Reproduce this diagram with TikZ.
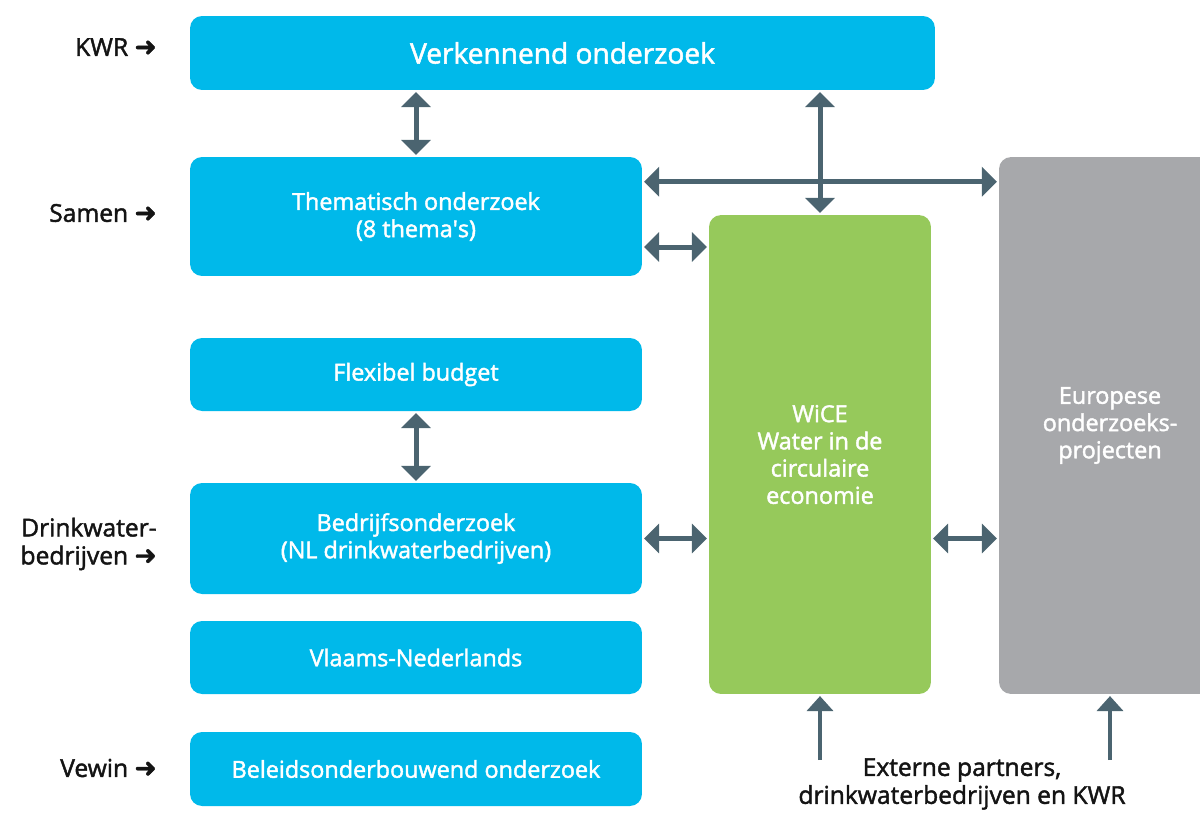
\documentclass[tikz,border=0pt]{standalone}
\usepackage{fontspec}
\setmainfont{Open Sans}[FakeBold=1.8]
\newfontfamily\arrowfont{DejaVu Sans}[FakeBold=1.5]
\usetikzlibrary{arrows.meta}
\usetikzlibrary{calc}
\definecolor{kblue}{HTML}{00B9EA}
\definecolor{kgreen}{HTML}{96C95B}
\definecolor{kgrey}{HTML}{A7A8AB}
\definecolor{klink}{HTML}{4B6470}
\definecolor{ktext}{HTML}{141414}
\newcommand{\lblarrow}{{\arrowfont\bfseries\fontsize{15}{15.9}\selectfont ➜}}

\begin{document}
\begin{tikzpicture}[x=0.02cm,y=-0.02cm]
\tikzstyle{every node}=[inner sep=0pt,align=center,font=\fontsize{13.3}{15.5}\selectfont]
\tikzstyle{box}=[rectangle,rounded corners=0.24cm,text=white,minimum width=9.04cm,fill=kblue]
\tikzstyle{lbl}=[anchor=east,align=right,text=ktext,font=\fontsize{14}{15.9}\selectfont]
\tikzstyle{link}=[klink,line width=0.1cm,shorten <=1pt,shorten >=1pt,{Triangle[width=0.58cm,length=0.3cm]}-{Triangle[width=0.58cm,length=0.3cm]}]
\tikzstyle{uplink}=[klink,line width=0.09cm,shorten >=1pt,-{Triangle[width=0.52cm,length=0.3cm]}]
\useasboundingbox (0,0) rectangle (1200,812);
\node[box,minimum width=14.9cm,minimum height=1.48cm,font=\fontsize{16}{19}\selectfont] (v) at (562.5,53) {Verkennend onderzoek};
\node[box,minimum height=2.38cm] (t) at (416,216.5) {Thematisch onderzoek\\(8 thema\textquotesingle s)};
\node[box,minimum height=1.46cm] (f) at (416,374.5) {Flexibel budget};
\node[box,minimum height=2.22cm] (b) at (416,538.5) {Bedrijfsonderzoek\\(NL drinkwaterbedrijven)};
\node[box,minimum height=1.46cm] (n) at (416,657.5) {Vlaams-Nederlands};
\node[box,minimum height=1.48cm] (p) at (416,769) {Beleidsonderbouwend onderzoek};
\node[box,fill=kgreen,minimum width=4.44cm,minimum height=9.58cm] (w) at (820,454.5) {WiCE\\Water in de\\circulaire\\economie};
\node[box,fill=kgrey,minimum width=4.44cm,minimum height=10.74cm] (e) at (1110,425.5) {Europese\\onderzoeks-\\projecten};
\node[lbl] (l1) at (157,47) {KWR \lblarrow};
\node[lbl] (l2) at (157,213) {Samen \lblarrow};
\node[lbl] (l3) at (157,544) {Drinkwater-\\bedrijven \lblarrow};
\node[lbl] (l4) at (157,768) {Vewin \lblarrow};
\node[text=ktext,font=\fontsize{14}{15.9}\selectfont] (x) at (962,784) {Externe partners,\\drinkwaterbedrijven en KWR};
\coordinate (t1) at ($(t.north east)+(0,25)$);
\coordinate (t2) at ($(t.east)+(0,30.5)$);
\coordinate (q1) at (820,760);
\coordinate (q2) at (1110,760);
\draw [link] (v.south -| t.north) -- (t.north);
\draw [link] (v.south -| w.north) -- (w.north);
\draw [link] (t1) -- (t1 -| e.west);
\draw [link] (t2) -- (t2 -| w.west);
\draw [link] (f.south) -- (b.north);
\draw [link] (b.east) -- (b.east -| w.west);
\draw [link] (b.east -| w.east) -- (b.east -| e.west);
\draw [uplink] (q1) -- (w.south);
\draw [uplink] (q2) -- (e.south);
\end{tikzpicture}
\end{document}
